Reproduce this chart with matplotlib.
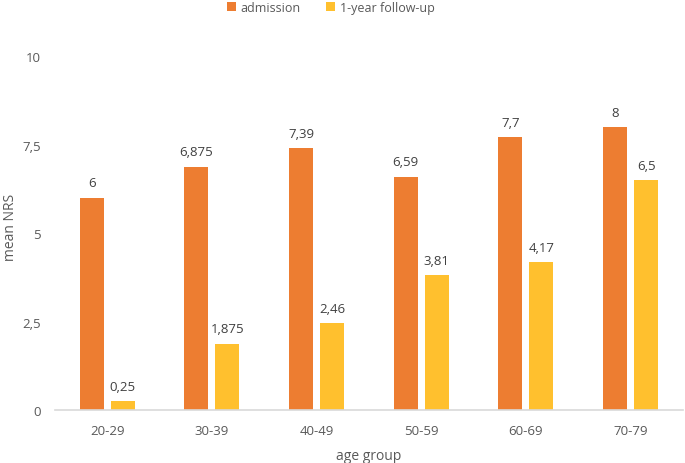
import numpy as np
import matplotlib.pyplot as plt

plt.rcParams['font.family'] = ['Open Sans', 'DejaVu Sans']

groups = ['20-29', '30-39', '40-49', '50-59', '60-69', '70-79']
admission = [6, 6.875, 7.39, 6.59, 7.7, 8]
followup = [0.25, 1.875, 2.46, 3.81, 4.17, 6.5]
yticks = [0, 2.5, 5, 7.5, 10]
ytick_labels = ['0', '2,5', '5', '7,5', '10']

def fmt(v):
    return ('%g' % v).replace('.', ',')

c_adm = '#ED7D31'
c_fu = '#FFC02E'
grey = '#595959'

fig = plt.figure(figsize=(6.85, 4.64), dpi=100)
ax = fig.add_axes([0.080, 0.114, 0.917, 0.763])

x = np.arange(len(groups))
w = 0.23
off = 0.148
b1 = ax.bar(x - off, admission, w, color=c_adm, label='admission')
b2 = ax.bar(x + off, followup, w, color=c_fu, label='1-year follow-up')

for bars, vals in ((b1, admission), (b2, followup)):
    for b, v in zip(bars, vals):
        ax.annotate(fmt(v), (b.get_x() + b.get_width() / 2, v), xytext=(0, 6),
                    textcoords='offset points', ha='center', va='bottom',
                    fontsize=9.5, color='#404040')

ax.set_xlim(-0.5, len(groups) - 0.5)
ax.set_ylim(0, 10)
ax.set_xticks(x)
ax.set_xticklabels(groups)
ax.set_yticks(yticks)
ax.set_yticklabels(ytick_labels)
ax.tick_params(axis='both', length=0, colors=grey, labelsize=9.5)
ax.tick_params(axis='x', pad=10)
ax.tick_params(axis='y', pad=10)
for s in ['top', 'right', 'left']:
    ax.spines[s].set_visible(False)
ax.spines['bottom'].set_color('#D9D9D9')
ax.spines['bottom'].set_linewidth(1.2)

ax.set_xlabel('age group', color=grey, fontsize=10, labelpad=8)
ax.set_ylabel('mean NRS', color=grey, fontsize=10)
ax.yaxis.set_label_coords(-0.058, 0.52)

fig.legend(handles=[b1, b2], loc='upper center', bbox_to_anchor=(0.483, 1.02),
           ncol=2, frameon=False, fontsize=9, handlelength=0.7, handleheight=0.7,
           columnspacing=2.0, handletextpad=0.4, labelcolor=grey)

fig.savefig('out.png', dpi=100)
